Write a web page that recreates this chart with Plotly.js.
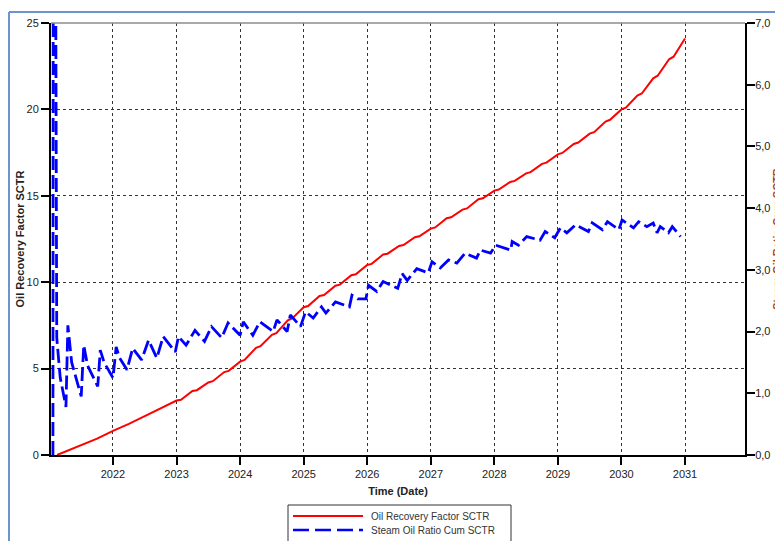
<!DOCTYPE html>
<html>
<head>
<meta charset="utf-8">
<script src="https://cdn.plot.ly/plotly-3.0.1.min.js"></script>
<style>
  html, body { margin: 0; padding: 0; background: #ffffff; }
  #chart { width: 775px; height: 541px; }
</style>
</head>
<body>
<div id="chart"></div>
<script>
// ---------- data ----------
const xTickVals = [2022, 2023, 2024, 2025, 2026, 2027, 2028, 2029, 2030, 2031];
const xTickText = ["2022", "2023", "2024", "2025", "2026", "2027", "2028", "2029", "2030", "2031"];
const yLeftTicks = [0, 5, 10, 15, 20, 25];
const yRightTickVals = [0, 1, 2, 3, 4, 5, 6, 7];
const yRightTickText = ["0,0", "1,0", "2,0", "3,0", "4,0", "5,0", "6,0", "7,0"];

const seriesNames = ["Oil Recovery Factor SCTR", "Steam Oil Ratio Cum SCTR"];

// Oil Recovery Factor SCTR (left axis) - small quarterly shelves included
const rfTime = [2021.12, 2021.25, 2021.5, 2021.75, 2022.0, 2022.25, 2022.5, 2022.75,
  2023.0, 2023.07, 2023.25, 2023.32, 2023.5, 2023.57, 2023.75, 2023.82,
  2024.0, 2024.07, 2024.25, 2024.32, 2024.5, 2024.57, 2024.75, 2024.82,
  2025.0, 2025.07, 2025.25, 2025.32, 2025.5, 2025.57, 2025.75, 2025.82,
  2026.0, 2026.07, 2026.25, 2026.32, 2026.5, 2026.57, 2026.75, 2026.82,
  2027.0, 2027.07, 2027.25, 2027.32, 2027.5, 2027.57, 2027.75, 2027.82,
  2028.0, 2028.07, 2028.25, 2028.32, 2028.5, 2028.57, 2028.75, 2028.82,
  2029.0, 2029.07, 2029.25, 2029.32, 2029.5, 2029.57, 2029.75, 2029.82,
  2030.0, 2030.07, 2030.25, 2030.32, 2030.5, 2030.57, 2030.75, 2030.82, 2031.0];
const rfValue = [0, 0.2, 0.55, 0.95, 1.4, 1.8, 2.25, 2.7,
  3.15, 3.2, 3.7, 3.75, 4.2, 4.27, 4.8, 4.87,
  5.4, 5.5, 6.2, 6.3, 6.95, 7.05, 7.8, 7.9,
  8.55, 8.62, 9.2, 9.26, 9.8, 9.86, 10.4, 10.46,
  11.0, 11.06, 11.6, 11.65, 12.1, 12.15, 12.6, 12.66,
  13.1, 13.17, 13.7, 13.76, 14.2, 14.27, 14.8, 14.86,
  15.3, 15.36, 15.8, 15.86, 16.3, 16.37, 16.85, 16.92,
  17.4, 17.48, 18.0, 18.08, 18.6, 18.68, 19.3, 19.4,
  20.0, 20.1, 20.8, 20.92, 21.8, 21.95, 22.9, 23.05, 24.1];

// Steam Oil Ratio Cum SCTR (right axis)
const sorTime = [2021.055, 2021.06, 2021.095, 2021.115, 2021.17, 2021.26, 2021.29, 2021.35,
  2021.50, 2021.54, 2021.60, 2021.76, 2021.80, 2021.86, 2022.00, 2022.05,
  2022.10, 2022.22, 2022.31, 2022.45, 2022.56, 2022.69, 2022.79, 2022.98,
  2023.03, 2023.15, 2023.29, 2023.44, 2023.55, 2023.71, 2023.81, 2024.00,
  2024.05, 2024.20, 2024.31, 2024.52, 2024.58, 2024.74, 2024.79, 2024.95,
  2025.03, 2025.15, 2025.28, 2025.35, 2025.50, 2025.72, 2025.76, 2025.85,
  2025.98, 2026.02, 2026.15, 2026.25, 2026.48, 2026.55, 2026.63, 2026.78,
  2026.96, 2027.02, 2027.15, 2027.28, 2027.41, 2027.54, 2027.72, 2027.78,
  2027.94, 2028.02, 2028.26, 2028.28, 2028.38, 2028.51, 2028.72, 2028.80,
  2028.95, 2029.04, 2029.14, 2029.28, 2029.48, 2029.54, 2029.70, 2029.78,
  2029.96, 2030.01, 2030.19, 2030.27, 2030.40, 2030.50, 2030.56, 2030.61,
  2030.74, 2030.80, 2030.93];
const sorValue = [0, 9, 9, 1.9, 1.25, 0.78, 2.1, 1.5,
  0.95, 1.78, 1.45, 1.11, 1.70, 1.5, 1.25, 1.75,
  1.58, 1.38, 1.73, 1.54, 1.86, 1.57, 1.92, 1.67,
  1.92, 1.78, 2.02, 1.84, 2.08, 1.9, 2.14, 1.94,
  2.16, 1.94, 2.16, 2.0, 2.19, 2.0, 2.27, 2.08,
  2.32, 2.22, 2.4, 2.3, 2.48, 2.4, 2.59, 2.53,
  2.53, 2.75, 2.65, 2.81, 2.7, 2.94, 2.83, 3.02,
  2.95, 3.13, 3.03, 3.16, 3.11, 3.27, 3.19, 3.32,
  3.27, 3.4, 3.32, 3.46, 3.4, 3.54, 3.48, 3.62,
  3.52, 3.68, 3.6, 3.73, 3.62, 3.76, 3.65, 3.78,
  3.65, 3.81, 3.68, 3.78, 3.7, 3.76, 3.6, 3.7,
  3.6, 3.7, 3.54];

// ---------- layout helpers ----------
const L = 51, R = 745, T = 23, B = 455;
const W = R - L, H = B - T;
const px = v => (v - L) / W;
const py = v => (B - v) / H;

const FONT = "Liberation Sans, Arial, sans-serif";
const RED = "#ff0000";
const BLUE = "#0000ff";
const DASH = "14px,5px";

const traces = [
  {
    x: rfTime, y: rfValue, name: seriesNames[0], type: "scatter", mode: "lines",
    line: { color: RED, width: 2 }, yaxis: "y", showlegend: false
  },
  {
    x: sorTime, y: sorValue, name: seriesNames[1], type: "scatter", mode: "lines",
    line: { color: BLUE, width: 2.8, dash: DASH }, yaxis: "y2", showlegend: false
  }
];

const shapes = [
  // outer light-blue frame
  { type: "line", xref: "paper", yref: "paper", x0: px(9), x1: px(776), y0: py(12), y1: py(12),
    line: { color: "#6a95cf", width: 2 } },
  { type: "line", xref: "paper", yref: "paper", x0: px(9), x1: px(9), y0: py(12), y1: py(545),
    line: { color: "#6a95cf", width: 2 } },
  // top border of plot area
  { type: "line", xref: "paper", yref: "paper", x0: 0, x1: 1, y0: 1, y1: 1,
    line: { color: "#8c8c8c", width: 1.5 } },
  // legend box
  { type: "rect", xref: "paper", yref: "paper", x0: px(288), x1: px(511), y0: py(505), y1: py(560),
    line: { color: "#333333", width: 1 }, fillcolor: "rgba(0,0,0,0)" },
  { type: "line", xref: "paper", yref: "paper", x0: px(293), x1: px(363), y0: py(516), y1: py(516),
    line: { color: RED, width: 2 } },
  { type: "line", xref: "paper", yref: "paper", x0: px(293), x1: px(363), y0: py(530), y1: py(530),
    line: { color: BLUE, width: 2.5, dash: "16px,6px" } }
];

const annotations = [
  { xref: "paper", yref: "paper", x: px(369), y: py(516), xanchor: "left", yanchor: "middle",
    text: seriesNames[0], showarrow: false, font: { family: FONT, size: 10, color: "#333333" } },
  { xref: "paper", yref: "paper", x: px(369), y: py(530), xanchor: "left", yanchor: "middle",
    text: seriesNames[1], showarrow: false, font: { family: FONT, size: 10, color: "#333333" } },
  // right axis title (cut off by the window edge, as in the reference)
  { xref: "paper", yref: "paper", x: px(777), y: py(239), xanchor: "center", yanchor: "middle",
    textangle: -90, text: "Steam Oil Ratio Cum SCTR", showarrow: false,
    font: { family: FONT, size: 11, color: "#a8401f", weight: "bold" } }
];

const layout = {
  width: 775, height: 541,
  margin: { l: L, r: 775 - R, t: T, b: 541 - B, pad: 0 },
  paper_bgcolor: "#ffffff", plot_bgcolor: "#ffffff",
  showlegend: false,
  font: { family: FONT, size: 11, color: "#222222" },
  xaxis: {
    range: [2021.0246, 2031.944], autorange: false,
    tickmode: "array", tickvals: xTickVals, ticktext: xTickText,
    ticks: "outside", ticklen: 8, tickwidth: 2, tickcolor: "#000000",
    showline: true, linecolor: "#000000", linewidth: 2,
    showgrid: true, gridcolor: "#333333", gridwidth: 1, griddash: "3px,3px",
    zeroline: false,
    tickfont: { family: FONT, size: 11, color: "#222222" },
    title: { text: "Time (Date)", standoff: 8, font: { family: FONT, size: 11, color: "#222222", weight: "bold" } },
    automargin: false
  },
  yaxis: {
    range: [0, 25], autorange: false,
    tickmode: "array", tickvals: yLeftTicks, ticktext: yLeftTicks.map(String),
    ticks: "outside", ticklen: 8, tickwidth: 2, tickcolor: "#000000",
    showline: true, linecolor: "#000000", linewidth: 2,
    showgrid: true, gridcolor: "#333333", gridwidth: 1, griddash: "3px,3px",
    zeroline: false,
    tickfont: { family: FONT, size: 11, color: "#222222" },
    title: { text: "Oil Recovery Factor SCTR", standoff: 0, font: { family: FONT, size: 11, color: "#222222", weight: "bold" } },
    automargin: false
  },
  yaxis2: {
    range: [0, 7], autorange: false, overlaying: "y", side: "right",
    tickmode: "array", tickvals: yRightTickVals, ticktext: yRightTickText,
    ticks: "outside", ticklen: 8, tickwidth: 2, tickcolor: "#000000",
    ticklabelstandoff: -2,
    showline: true, linecolor: "#000000", linewidth: 2,
    showgrid: false, zeroline: false,
    tickfont: { family: FONT, size: 11, color: "#222222" },
    automargin: false
  },
  shapes: shapes,
  annotations: annotations
};

Plotly.newPlot("chart", traces, layout, { staticPlot: true, displayModeBar: false });
</script>
</body>
</html>
